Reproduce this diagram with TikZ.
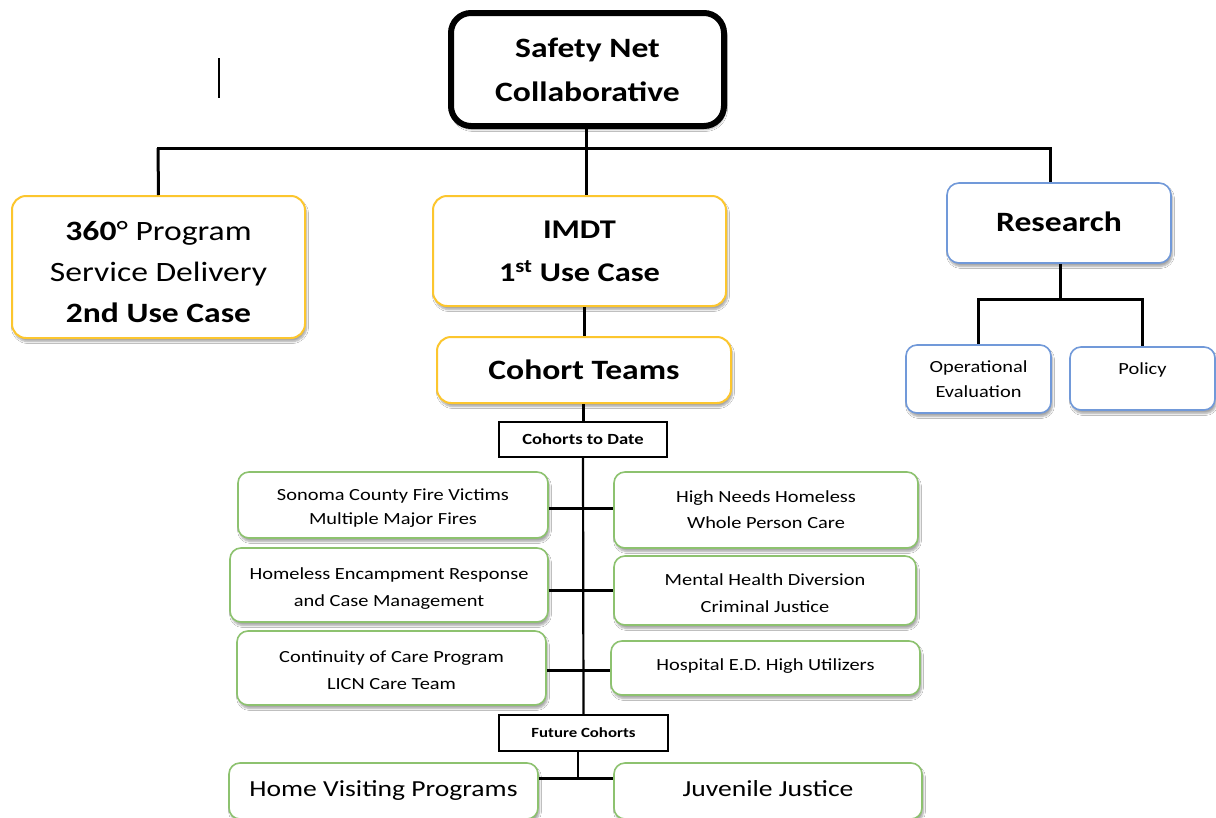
\documentclass[tikz,border=0pt]{standalone}
\usepackage{fontspec}
\setmainfont{Carlito}[FakeStretch=1.2]
\usetikzlibrary{shadows.blur}
\definecolor{yel}{HTML}{FCC62E}
\definecolor{blu}{HTML}{7199D9}
\definecolor{grn}{HTML}{8DC26F}
\begin{document}
\begin{tikzpicture}[x=1pt,y=-1pt,
  shd/.style={blur shadow={shadow xshift=1.5pt,shadow yshift=-3.5pt,shadow blur steps=6,shadow opacity=35}},
  basebox/.style={rectangle,rounded corners=14pt,fill=white,align=center,inner sep=0pt,shd},
  ybox/.style={basebox,draw=yel,line width=2pt},
  bbox/.style={basebox,draw=blu,line width=1.6pt,rounded corners=12pt},
  gbox/.style={basebox,draw=grn,line width=1.6pt,rounded corners=11pt},
  txt/.style={align=center,inner sep=0pt},
  lbl/.style={rectangle,draw=black,line width=1.2pt,fill=white,align=center,inner sep=0pt,font=\fontsize{15.5}{18}\selectfont\bfseries},
  conn/.style={line width=3pt},
  spine/.style={line width=2.2pt},
  small/.style={font=\fontsize{17}{25.5}\selectfont},
  mid/.style={font=\fontsize{23}{30}\selectfont}
]
\useasboundingbox (0,0) rectangle (1216,817);
\fill[white] (0,0) rectangle (1216,817);

% stray cursor line
\draw[line width=1.4pt] (219,58) -- (219,98);

% top level
\node[basebox,draw=black,line width=6pt,rounded corners=20pt,minimum width=273pt,minimum height=113pt,
      font=\fontsize{28}{44}\selectfont\bfseries] (safety) at (587.5,69.5) {Safety Net\\Collaborative};

\node[ybox,minimum width=293pt,minimum height=142pt] (p360) at (158.5,267) {};
\node[txt,font=\fontsize{28}{41}\selectfont] (p360t) at ([yshift=-5pt]p360.center)
  {\textbf{360}° Program\\Service Delivery\\\textbf{2nd Use Case}};
\node[ybox,minimum width=293pt,minimum height=110pt,font=\fontsize{27}{43}\selectfont\bfseries] (imdt) at (579.5,251)
  {IMDT\\1\textsuperscript{st} Use Case};
\node[ybox,minimum width=294pt,minimum height=66pt,font=\fontsize{28}{34}\selectfont\bfseries] (cohort) at (584,370)
  {Cohort Teams};
\node[bbox,minimum width=224pt,minimum height=80pt] (research) at (1059,223) {};
\node[txt,font=\fontsize{28}{34}\selectfont\bfseries] (researcht) at ([yshift=1.5pt]research.center) {Research};
\node[bbox,minimum width=145pt,minimum height=68pt,small,rounded corners=11pt] (opeval) at (978.5,379)
  {Operational\\Evaluation};
\node[bbox,minimum width=145pt,minimum height=63pt,small,rounded corners=11pt] (policy) at (1142.5,378.5) {};
\node[txt,small] (policyt) at ([yshift=-2.5pt]policy.center) {Policy\\\mbox{}};

% cohort labels
\node[lbl,minimum width=168pt,minimum height=35pt] (ctd) at (583,439.5) {Cohorts to Date};
\node[lbl,minimum width=169pt,minimum height=36pt,font=\fontsize{14}{17}\selectfont\bfseries] (future) at (583.5,733) {Future Cohorts};

% cohort boxes
\node[gbox,minimum width=310pt,minimum height=66pt] (sonoma) at (393,505) {};
\node[txt,font=\fontsize{17}{24}\selectfont] (sonomat) at ([yshift=-3pt]sonoma.center)
  {Sonoma County Fire Victims\\Multiple Major Fires};
\node[gbox,minimum width=304pt,minimum height=76pt,font=\fontsize{17}{26}\selectfont] (highneeds) at (766,510)
  {High Needs Homeless\\Whole Person Care};
\node[gbox,minimum width=318pt,minimum height=74pt] (homeless) at (389,585) {};
\node[txt,font=\fontsize{17}{27}\selectfont] (homelesst) at ([yshift=-4pt]homeless.center)
  {Homeless Encampment Response\\and Case Management};
\node[gbox,minimum width=302pt,minimum height=69pt] (mental) at (765,590.5) {};
\node[txt,font=\fontsize{17}{27}\selectfont] (mentalt) at ([yshift=-3pt]mental.center)
  {Mental Health Diversion\\Criminal Justice};
\node[gbox,minimum width=309pt,minimum height=74pt] (continuity) at (391.5,668) {};
\node[txt,font=\fontsize{17}{27}\selectfont] (continuityt) at ([yshift=-2pt]continuity.center)
  {Continuity of Care Program\\LICN Care Team};
\node[gbox,minimum width=309pt,minimum height=54pt] (hospital) at (765.5,668) {};
\node[txt,small] (hospitalt) at ([yshift=2pt]hospital.center) {Hospital E.D. High Utilizers};
\node[gbox,minimum width=309pt,minimum height=56pt,mid] (homevisit) at (383.5,791)
  {Home Visiting Programs};
\node[gbox,minimum width=308pt,minimum height=56pt] (juvenile) at (768,791) {};
\node[txt,mid] (juvenilet) at ([yshift=2pt]juvenile.center) {Juvenile Justice};

% top tree connectors
\coordinate (busL) at (158,148);
\coordinate (busM) at (586,148);
\coordinate (busR) at (1050,148);
\draw[conn] (busM |- safety.south) -- (busM);
\draw[conn,line cap=rect] (busL) -- (busR);
\draw[conn] (busL) -- (p360.north);
\draw[conn] (busM) -- (busM |- imdt.north);
\draw[conn] (busR) -- (busR |- research.north);
\draw[conn] (cohort.north |- imdt.south) -- (cohort.north);
\draw[conn] (cohort.south -| ctd.north) -- (ctd.north);

% research tree
\coordinate (rj) at (1060,299);
\draw[conn] (rj |- research.south) -- (rj);
\draw[conn,line cap=rect] (opeval.north |- rj) -- (policy.north |- rj);
\draw[conn] (opeval.north |- rj) -- (opeval.north);
\draw[conn] (policy.north |- rj) -- (policy.north);

% cohort spine
\draw[spine] (ctd.south) -- (future.north);
\draw[conn] (sonoma.east |- 0,508) -- (highneeds.west |- 0,508);
\draw[conn] (homeless.east |- 0,590) -- (mental.west |- 0,590);
\draw[conn] (continuity.east |- 0,670) -- (hospital.west |- 0,670);
\coordinate (fj) at (578,778);
\draw[spine] (future.south -| fj) -- (fj);
\draw[conn] (homevisit.east |- fj) -- (juvenile.west |- fj);
\end{tikzpicture}
\end{document}
